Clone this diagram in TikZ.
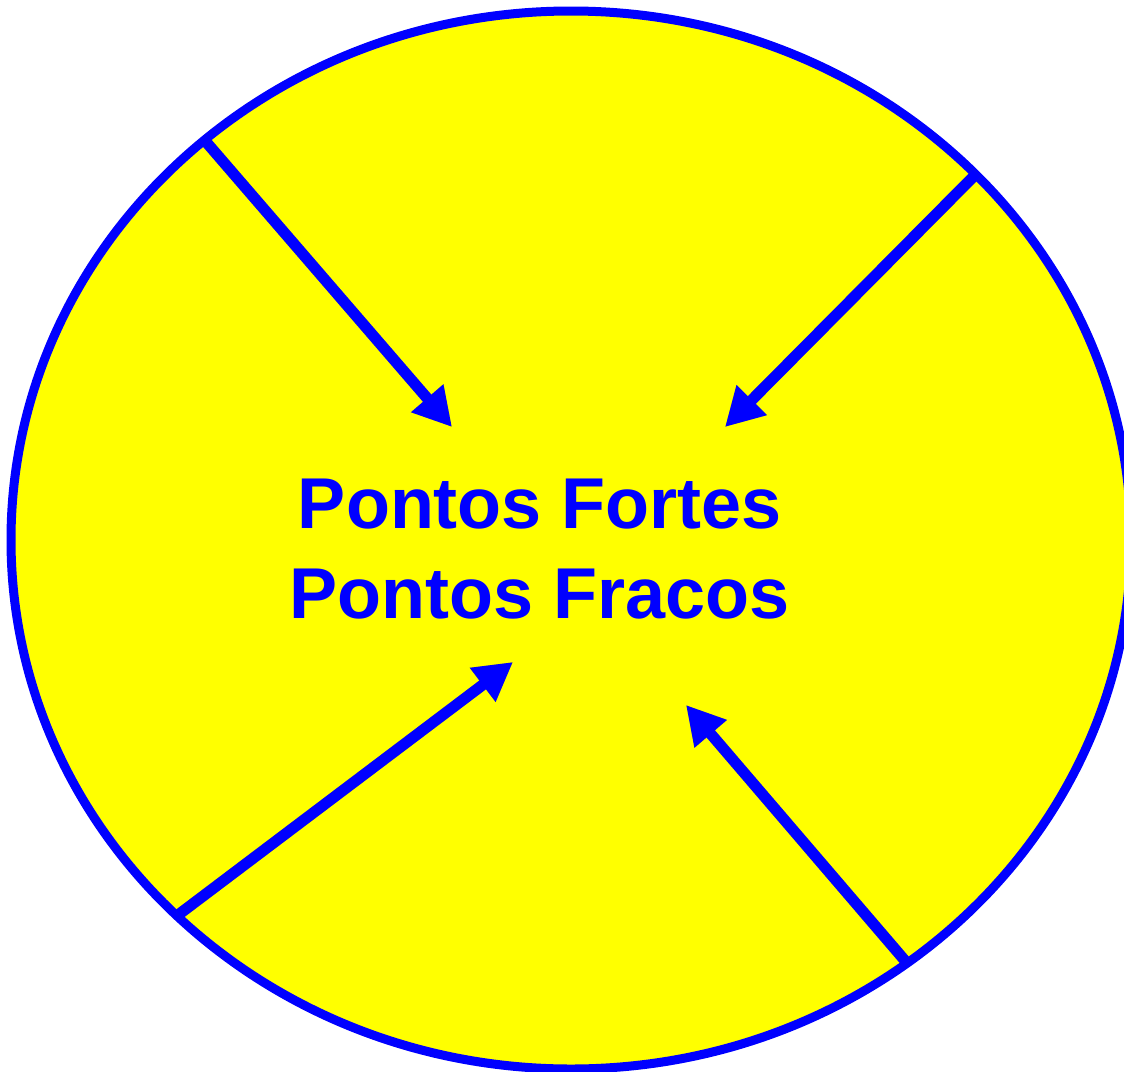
\documentclass[tikz,border=0pt]{standalone}
\usepackage{fontspec}
\newfontfamily\labelfont{Liberation Sans}
\usepackage{xcolor}
\definecolor{OvalYellow}{RGB}{255,255,0}
\definecolor{PureBlue}{RGB}{0,0,255}
\usepackage{tikz}
\usetikzlibrary{arrows.meta,shapes.geometric}

\begin{document}
\begin{tikzpicture}[x=1pt, y=-1pt]
\tikzset{oval/.style={ellipse, draw=PureBlue, fill=OvalYellow, line width=9pt, minimum width=1120pt, minimum height=1058pt, inner sep=0pt}}
\tikzset{label/.style={font=\labelfont\bfseries\fontsize{72}{90}\selectfont, text=PureBlue, anchor=base, inner sep=0pt}}
\tikzset{push/.style={-{Triangle[length=38pt, width=40pt]}, line width=11pt, draw=PureBlue}}
\tikzset{shade/.style={-{Triangle[length=38pt, width=40pt]}, line width=11pt, draw=black!60!OvalYellow, opacity=0.35, shift={(3,3)}}}
\useasboundingbox (0,0) rectangle (1124,1071);
\clip (0,0) rectangle (1124,1071);
\node[oval] (circle) at (571,540) {};
% text
\node[label] (fortes) at (540,528) {Pontos Fortes};
\node[label] (fracos) at (540,618) {Pontos Fracos};
% start and end points of the arrows
\coordinate (nw) at (207,143);
\coordinate (ne) at (977,173);
\coordinate (sw) at (178,915);
\coordinate (se) at (907,963);
\coordinate (nwtip) at (452,427);
\coordinate (netip) at (725,427);
\coordinate (swtip) at (513,662);
\coordinate (setip) at (686,705);
% shadows
\draw[shade] (nw) -- (nwtip);
\draw[shade] (ne) -- (netip);
\draw[shade] (sw) -- (swtip);
\draw[shade] (se) -- (setip);
% arrows
\draw[push] (nw) -- (nwtip);
\draw[push] (ne) -- (netip);
\draw[push] (sw) -- (swtip);
\draw[push] (se) -- (setip);
\end{tikzpicture}
\end{document}
